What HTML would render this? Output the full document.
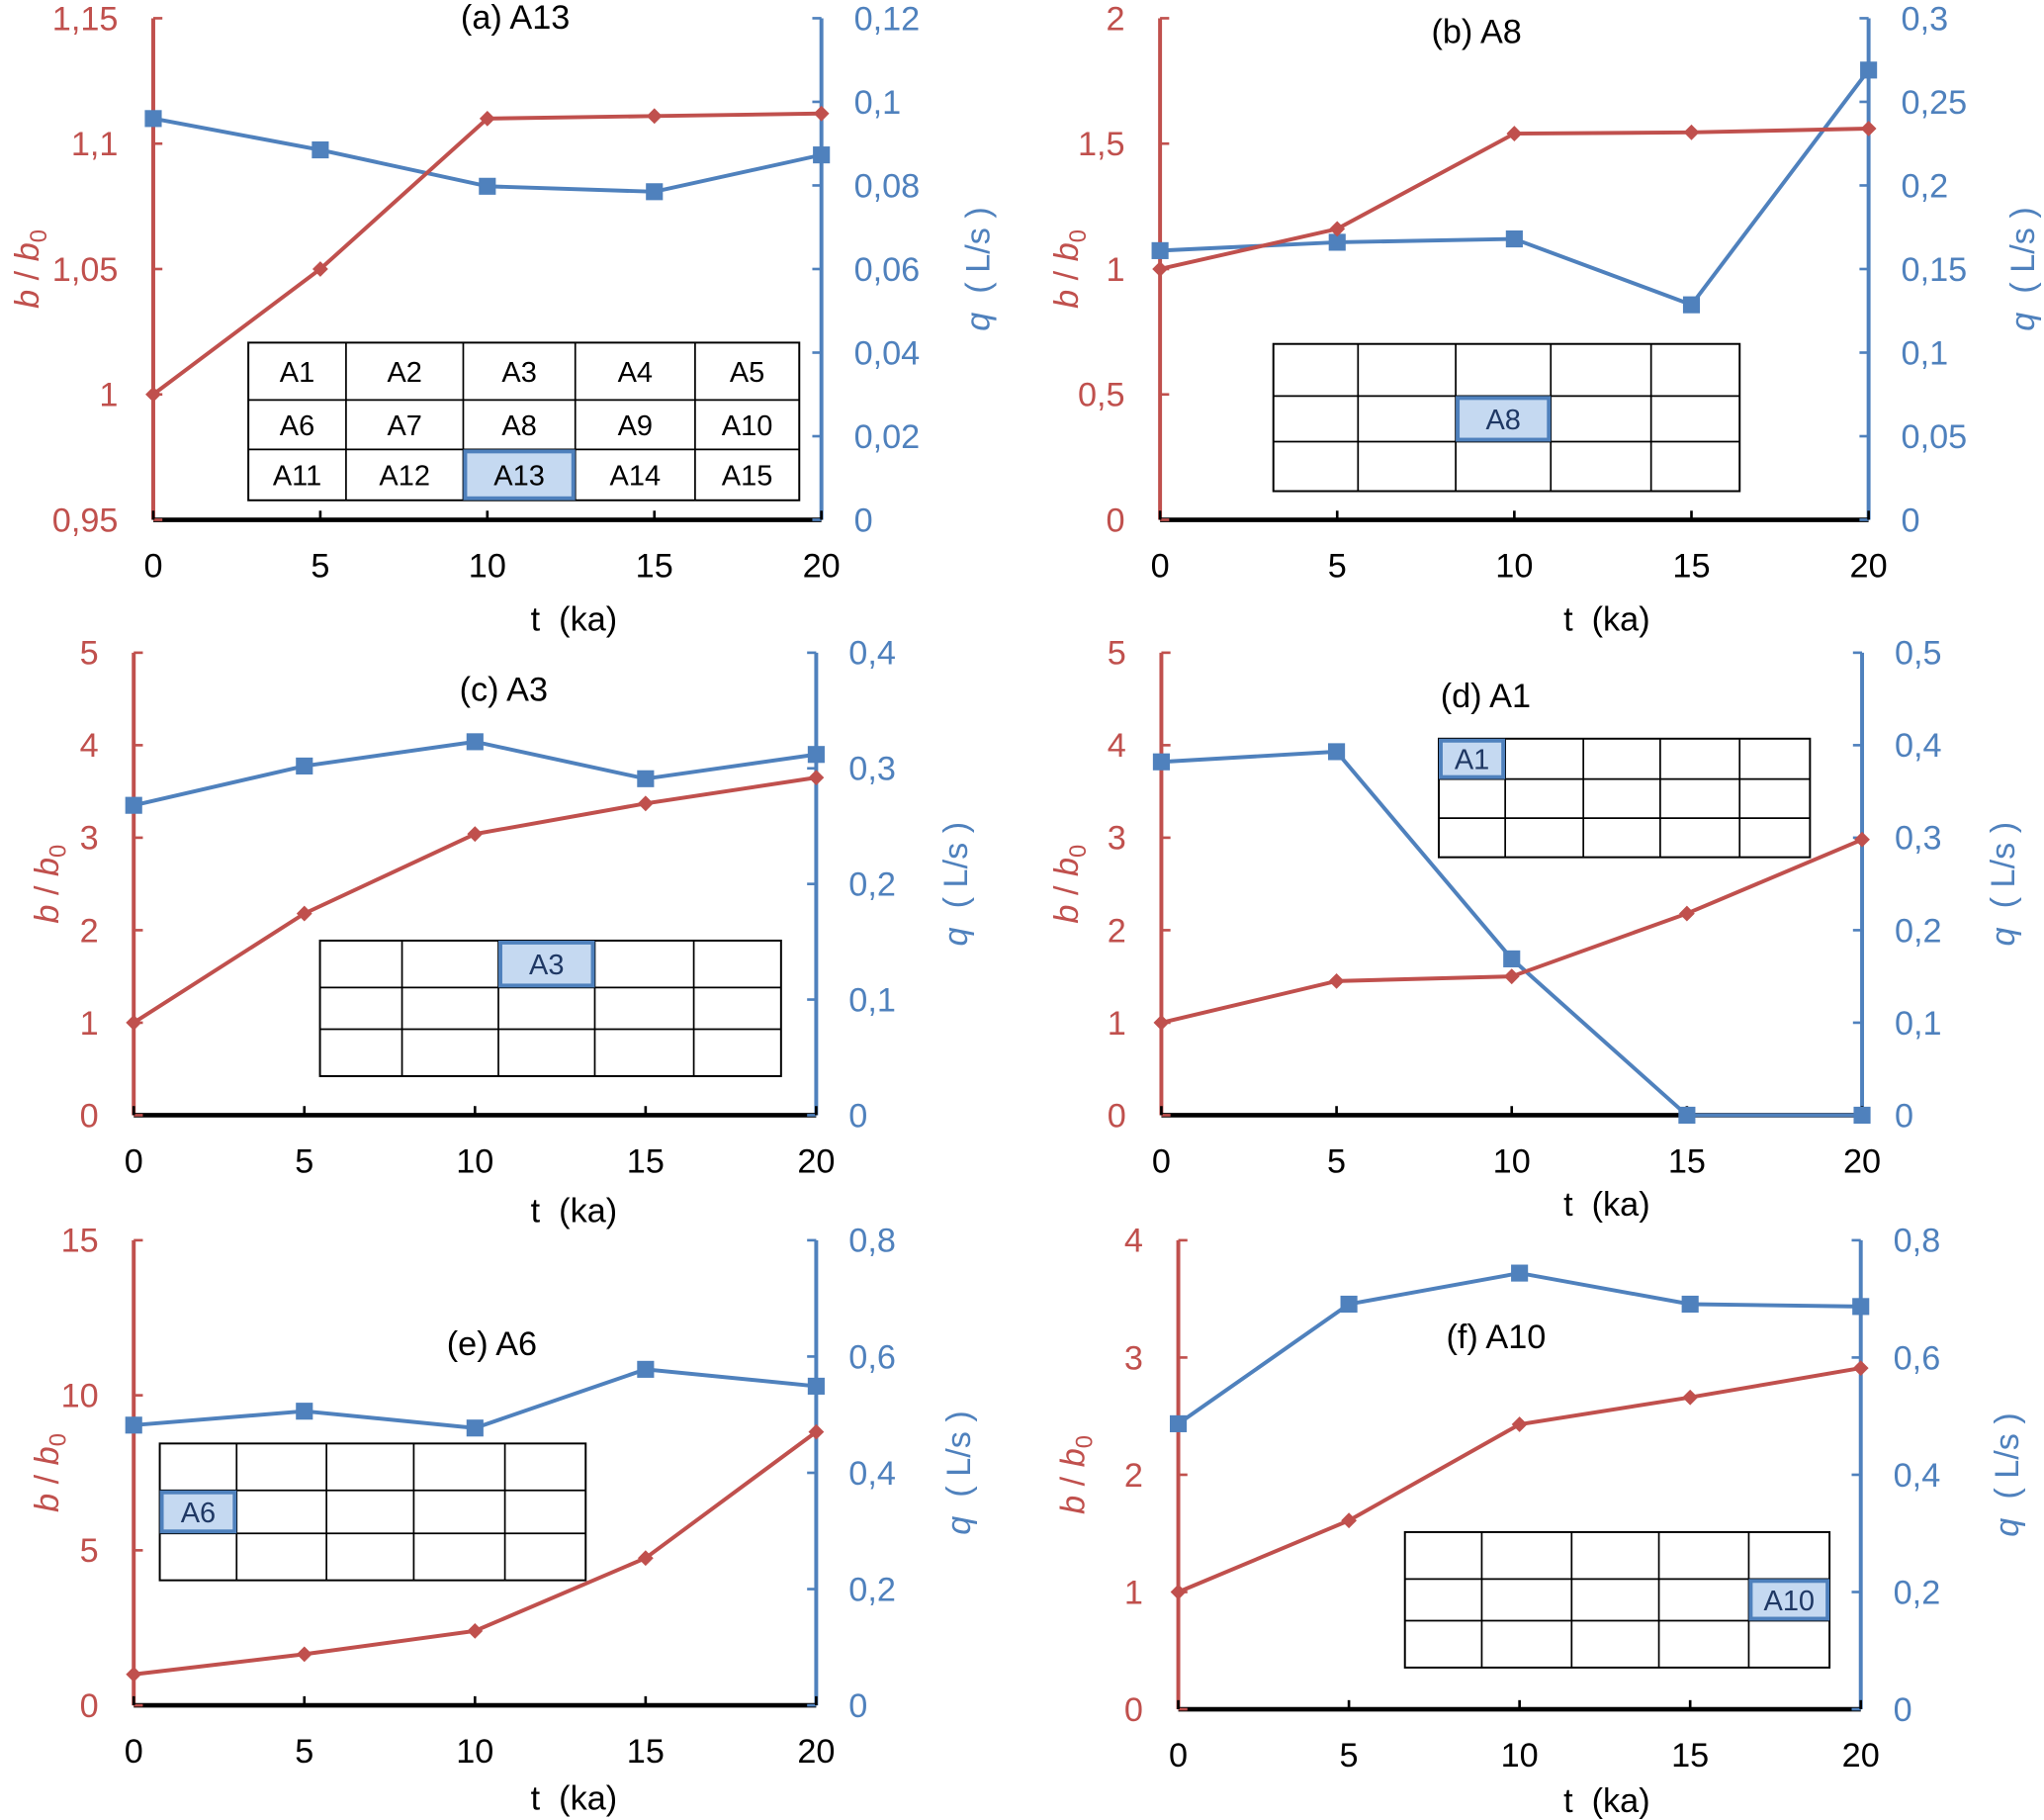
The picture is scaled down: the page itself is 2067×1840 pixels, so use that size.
<!DOCTYPE html>
<html><head><meta charset="utf-8"><style>
html,body{margin:0;padding:0;background:#fff}
svg{display:block}
text{font-family:"Liberation Sans",Arial,sans-serif}
</style></head><body>
<svg id="chart" width="2067" height="1840" viewBox="0 0 1568 1397" xmlns="http://www.w3.org/2000/svg"></svg>
<script>
const tValues=[0,5,10,15,20];
const xTicks=[0,5,10,15,20];
const bA13=[1,1.05,1.11,1.111,1.112];
const qA13=[0.096,0.0885,0.0798,0.0785,0.0873];
const bA8=[1,1.16,1.54,1.545,1.56];
const qA8=[0.161,0.166,0.168,0.1286,0.269];
const bA3=[1,2.18,3.04,3.37,3.65];
const qA3=[0.268,0.302,0.323,0.291,0.312];
const bA1=[1,1.45,1.5,2.18,2.98];
const qA1=[0.382,0.393,0.169,0,0];
const bA6=[1,1.65,2.4,4.75,8.82];
const qA6=[0.482,0.506,0.477,0.578,0.549];
const bA10=[1,1.61,2.43,2.66,2.91];
const qA10=[0.487,0.691,0.744,0.691,0.687];
const leftTicksA=["0,95","1","1,05","1,1","1,15"];const leftValsA=[0.95,1,1.05,1.1,1.15];
const rightTicksA=["0","0,02","0,04","0,06","0,08","0,1","0,12"];const rightValsA=[0,0.02,0.04,0.06,0.08,0.1,0.12];
const leftTicksB=["0","0,5","1","1,5","2"];const leftValsB=[0,0.5,1,1.5,2];
const rightTicksB=["0","0,05","0,1","0,15","0,2","0,25","0,3"];const rightValsB=[0,0.05,0.1,0.15,0.2,0.25,0.3];
const leftTicks5=["0","1","2","3","4","5"];const leftVals5=[0,1,2,3,4,5];
const rightTicksC=["0","0,1","0,2","0,3","0,4"];const rightValsC=[0,0.1,0.2,0.3,0.4];
const rightTicksD=["0","0,1","0,2","0,3","0,4","0,5"];const rightValsD=[0,0.1,0.2,0.3,0.4,0.5];
const leftTicksE=["0","5","10","15"];const leftValsE=[0,5,10,15];
const rightTicks8=["0","0,2","0,4","0,6","0,8"];const rightVals8=[0,0.2,0.4,0.6,0.8];
const leftTicksF=["0","1","2","3","4"];const leftValsF=[0,1,2,3,4];

const RED="#C0504D",BLUE="#4F81BD",NS="http://www.w3.org/2000/svg";
const svg=document.getElementById('chart');
function el(tag,attrs,parent,txt){const e=document.createElementNS(NS,tag);for(const k in attrs)e.setAttribute(k,attrs[k]);if(txt!==undefined)e.textContent=txt;(parent||svg).appendChild(e);return e;}

const panels=[
 {id:'a',title:'(a) A13',tx:395,ty:22,x0:117,x1:630,yb:399,yt:14,lmin:0.95,lmax:1.15,rmax:0.12,b:bA13,q:qA13,lt:leftTicksA,lv:leftValsA,rt:rightTicksA,rv:rightValsA,lo:97,ro:120,xtx:440,xty:484,
  table:{cols:[190,265,355,441,533,613],rows:[263,307,345,384],hi:[2,2],labels:true}},
 {id:'b',title:'(b) A8',tx:1133,ty:33,x0:890,x1:1434,yb:399,yt:14,lmin:0,lmax:2,rmax:0.3,b:bA8,q:qA8,lt:leftTicksB,lv:leftValsB,rt:rightTicksB,rv:rightValsB,lo:72,ro:118,xtx:1233,xty:484,
  table:{cols:[977,1042,1117,1190,1267,1335],rows:[264,304,339,377],hi:[1,2],txt:'A8'}},
 {id:'c',title:'(c) A3',tx:386,ty:538,x0:102,x1:626,yb:856,yt:501,lmin:0,lmax:5,rmax:0.4,b:bA3,q:qA3,lt:leftTicks5,lv:leftVals5,rt:rightTicksC,rv:rightValsC,lo:67,ro:107,xtx:440,xty:938,
  table:{cols:[245,308,382,456,532,599],rows:[722,758,790,826],hi:[0,2],txt:'A3'}},
 {id:'d',title:'(d) A1',tx:1140,ty:543,x0:891,x1:1429,yb:856,yt:501,lmin:0,lmax:5,rmax:0.5,b:bA1,q:qA1,lt:leftTicks5,lv:leftVals5,rt:rightTicksD,rv:rightValsD,lo:73,ro:108,xtx:1233,xty:933,
  table:{cols:[1104,1155,1215,1274,1335,1389],rows:[567,598,628,658],hi:[0,0],txt:'A1'}},
 {id:'e',title:'(e) A6',tx:377,ty:1040,x0:102,x1:626,yb:1309,yt:952,lmin:0,lmax:15,rmax:0.8,b:bA6,q:qA6,lt:leftTicksE,lv:leftValsE,rt:rightTicks8,rv:rightVals8,lo:67,ro:109,xtx:440,xty:1389,
  table:{cols:[122,181,250,317,387,449],rows:[1108,1144,1177,1213],hi:[1,0],txt:'A6'}},
 {id:'f',title:'(f) A10',tx:1148,ty:1035,x0:904,x1:1428,yb:1312,yt:952,lmin:0,lmax:4,rmax:0.8,b:bA10,q:qA10,lt:leftTicksF,lv:leftValsF,rt:rightTicks8,rv:rightVals8,lo:81,ro:112,xtx:1233,xty:1391,
  table:{cols:[1078,1137,1206,1273,1342,1404],rows:[1176,1212,1244,1280],hi:[1,4],txt:'A10'}}
];
const cellNames=[["A1","A2","A3","A4","A5"],["A6","A7","A8","A9","A10"],["A11","A12","A13","A14","A15"]];

panels.forEach(p=>{
 const g=el('g',{});
 
 
 const xs=v=>p.x0+(v-0)/(20-0)*(p.x1-p.x0);
 const yl=v=>p.yb-(v-p.lmin)/(p.lmax-p.lmin)*(p.yb-p.yt);
 const yr=v=>p.yb-v/p.rmax*(p.yb-p.yt);
 const T=p.table,c=T.cols,r=T.rows;
 const tg=el('g',{},g);
 
 
 const hx=c[T.hi[1]],hy=r[T.hi[0]];
 el('rect',{x:hx,y:hy,width:c[T.hi[1]+1]-hx,height:r[T.hi[0]+1]-hy,fill:'#C5D9F1'},tg);
 el('rect',{x:c[0],y:r[0],width:c[5]-c[0],height:r[3]-r[0],fill:'none',stroke:'#000','stroke-width':1.5},tg);
 for(let i=1;i<5;i++)el('line',{x1:c[i],x2:c[i],y1:r[0],y2:r[3],stroke:'#000','stroke-width':1.3},tg);
 for(let j=1;j<3;j++)el('line',{x1:c[0],x2:c[5],y1:r[j],y2:r[j],stroke:'#000','stroke-width':1.3},tg);
 el('rect',{x:hx+1.5,y:hy+1.5,width:c[T.hi[1]+1]-hx-3,height:r[T.hi[0]+1]-hy-3,fill:'none',stroke:BLUE,'stroke-width':3},tg);
 for(let j=0;j<3;j++)for(let i=0;i<5;i++){
  let s=null;
  if(T.labels)s=cellNames[j][i];else if(j===T.hi[0]&&i===T.hi[1])s=T.txt;
  if(s){const t=el('text',{x:(c[i]+c[i+1])/2,y:(r[j]+r[j+1])/2+8,'text-anchor':'middle','font-size':22,fill:(j===T.hi[0]&&i===T.hi[1]&&!T.labels)?'#1F3864':'#000'},tg,s);
   
   }
 }
 const la=el('line',{x1:p.x0,x2:p.x0,y1:p.yt,y2:p.yb,stroke:RED,'stroke-width':3},g);
 
 
 const ra=el('line',{x1:p.x1,x2:p.x1,y1:p.yt,y2:p.yb,stroke:BLUE,'stroke-width':3},g);
 
 
 const xa=el('line',{x1:p.x0,x2:p.x1,y1:p.yb,y2:p.yb,stroke:'#000','stroke-width':3.5},g);
 
 
 p.lv.forEach((v,i)=>{const y=yl(v);
  el('line',{x1:p.x0,x2:p.x0+7,y1:y,y2:y,stroke:RED,'stroke-width':2},g);
  const t=el('text',{x:p.x0-27,y:y+9,'text-anchor':'end','font-size':26,fill:RED},g,p.lt[i]);
  
  });
 p.rv.forEach((v,i)=>{const y=yr(v);
  el('line',{x1:p.x1-7,x2:p.x1,y1:y,y2:y,stroke:BLUE,'stroke-width':2},g);
  const t=el('text',{x:p.x1+25,y:y+9,'font-size':26,fill:BLUE},g,p.rt[i]);
  
  });
 xTicks.forEach(v=>{const x=xs(v);
  el('line',{x1:x,x2:x,y1:p.yb-7,y2:p.yb,stroke:'#000','stroke-width':2},g);
  const t=el('text',{x:x,y:p.yb+44,'text-anchor':'middle','font-size':26,fill:'#000'},g,String(v));
  
  });
 const xt=el('text',{x:p.xtx,y:p.xty,'text-anchor':'middle','font-size':26,fill:'#000'},g,'t\u00a0\u00a0(ka)');
 
 
 const cy=(p.yt+p.yb)/2;
 const lt=el('text',{transform:`translate(${p.x0-p.lo+9},${cy}) rotate(-90)`,'text-anchor':'middle','font-size':26,fill:RED},g);
 
 
 lt.innerHTML='<tspan font-style="italic">b</tspan> / <tspan font-style="italic">b</tspan><tspan font-size="18" dy="6">0</tspan>';
 const rt=el('text',{transform:`translate(${p.x1+p.ro+9},${cy}) rotate(-90)`,'text-anchor':'middle','font-size':26,fill:BLUE},g);
 
 
 rt.innerHTML='<tspan font-style="italic">q</tspan>\u00a0\u00a0(\u00a0L/s\u00a0)';
 const ti=el('text',{x:p.tx,y:p.ty,'text-anchor':'middle','font-size':26,fill:'#000'},g,p.title);
 
 
 const qp=el('polyline',{points:tValues.map((t,i)=>xs(t)+','+yr(p.q[i])).join(' '),fill:'none',stroke:BLUE,'stroke-width':3},g);
 
 
 const bp=el('polyline',{points:tValues.map((t,i)=>xs(t)+','+yl(p.b[i])).join(' '),fill:'none',stroke:RED,'stroke-width':3},g);
 
 
 tValues.forEach((t,i)=>{const x=xs(t),y=yr(p.q[i]);
  const m=el('rect',{x:x-6.5,y:y-6.5,width:13,height:13,fill:BLUE},g);
  
  });
 tValues.forEach((t,i)=>{const x=xs(t),y=yl(p.b[i]);
  const m=el('polygon',{points:`${x},${y-6} ${x+6},${y} ${x},${y+6} ${x-6},${y}`,fill:RED},g);
  
  });
});
</script>
</body></html>
